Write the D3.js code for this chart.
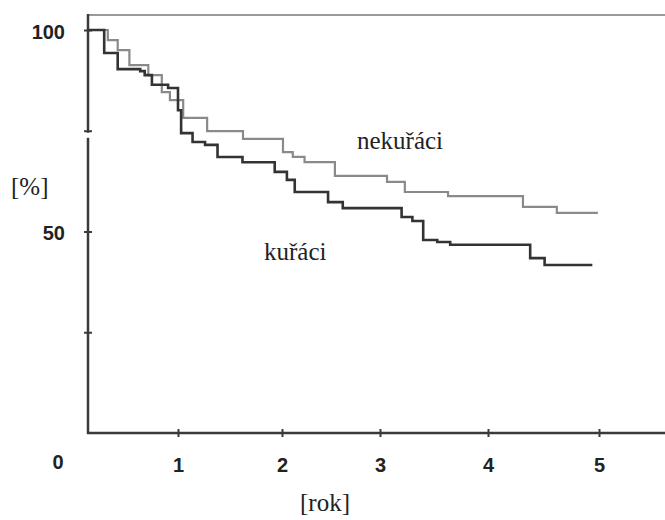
<!DOCTYPE html>
<html>
<head>
<meta charset="utf-8">
<script src="https://cdn.jsdelivr.net/npm/d3@7"></script>
<style>
  html, body { margin: 0; padding: 0; background: #fff; }
  svg { display: block; }
</style>
</head>
<body>
<div id="chart"></div>
<script>
// roky (osa x) a procenta (osa y)
const xTicks = [1, 2, 3, 4, 5];
const yTicks = [100, 75, 50, 25];
const yLabels = { 100: "100", 50: "50" };

// nekuřáci: [rok, %] - body změny křivky
const nekuraciT = [0, 0.22, 0.33, 0.46, 0.67, 0.82, 0.91, 1.05, 1.28, 1.625, 2.01, 2.11, 2.23, 2.54, 3.065, 3.23, 3.63, 4.315, 4.62, 4.99];
const nekuraciP = [100, 97.5, 95.0, 91.3, 88.8, 84.6, 82.6, 78.2, 74.9, 73.0, 69.7, 68.5, 67.2, 63.8, 62.3, 59.8, 58.8, 56.1, 54.6, 54.6];

// kuřáci
const kuraciT = [0, 0.18, 0.33, 0.58, 0.63, 0.71, 0.89, 1.0, 1.03, 1.14, 1.26, 1.38, 1.62, 1.93, 2.05, 2.13, 2.47, 2.62, 3.2, 3.3, 3.4, 3.53, 3.65, 4.38, 4.51, 4.94];
const kuraciP = [100, 94.3, 90.3, 89.8, 88.8, 86.4, 85.6, 80.1, 74.4, 72.2, 71.5, 68.5, 67.2, 64.8, 62.8, 59.8, 57.3, 55.8, 53.6, 52.6, 47.9, 47.4, 46.7, 43.4, 41.7, 41.7];

const W = 665, H = 520;
const svg = d3.select("#chart").append("svg")
  .attr("width", W).attr("height", H);

// osa x v originálu není rovnoměrná, proto polylineární škála
const x = d3.scaleLinear()
  .domain([0, 1, 2, 3, 4, 5, 5.6])
  .range([88, 178, 282, 380, 488, 599, 665]);
const y = d3.scaleLinear().domain([0, 100]).range([433, 30]);

const boldFont = "'Liberation Sans Narrow', 'Liberation Sans', Arial, sans-serif";
const serifFont = "'Liberation Serif', 'Times New Roman', serif";
const axisColor = "#3a3a3a";

// horní rámeček
svg.append("line")
  .attr("x1", x(0)).attr("x2", W)
  .attr("y1", 15).attr("y2", 15)
  .attr("stroke", "#9a9a9a").attr("stroke-width", 2);

// osa y s přerušením
const gapTop = y(75) + 2, gapBot = y(75) + 7;
svg.append("line")
  .attr("x1", x(0)).attr("x2", x(0))
  .attr("y1", 14).attr("y2", gapTop)
  .attr("stroke", axisColor).attr("stroke-width", 2.5);
svg.append("line")
  .attr("x1", x(0)).attr("x2", x(0))
  .attr("y1", gapBot).attr("y2", y(0) + 1)
  .attr("stroke", axisColor).attr("stroke-width", 2.5);

const yAxisG = svg.append("g")
  .attr("transform", `translate(${x(0)},0)`)
  .call(d3.axisLeft(y).tickValues(yTicks).tickSize(0).tickPadding(23)
    .tickFormat((d) => yLabels[d] || ""));
yAxisG.select(".domain").remove();
yAxisG.selectAll(".tick line")
  .attr("x1", -4).attr("x2", 4)
  .attr("stroke", axisColor).attr("stroke-width", 2);
yAxisG.selectAll(".tick text")
  .attr("fill", "#222")
  .attr("dy", "0.4em")
  .style("font-family", boldFont)
  .style("font-weight", "bold")
  .style("font-size", "20px");

// osa x
svg.append("line")
  .attr("x1", x(0) - 1).attr("x2", W)
  .attr("y1", y(0)).attr("y2", y(0))
  .attr("stroke", axisColor).attr("stroke-width", 2.5);

const xAxisG = svg.append("g")
  .attr("transform", `translate(0,${y(0)})`)
  .call(d3.axisBottom(x).tickValues(xTicks).tickSize(0).tickPadding(25)
    .tickFormat(d3.format("d")));
xAxisG.select(".domain").remove();
xAxisG.selectAll(".tick line")
  .attr("y1", -4).attr("y2", 4)
  .attr("stroke", axisColor).attr("stroke-width", 2);
xAxisG.selectAll(".tick text")
  .attr("fill", "#222")
  .style("font-family", boldFont)
  .style("font-weight", "bold")
  .style("font-size", "20px");

// nula pod osou
svg.append("text")
  .attr("x", 58).attr("y", y(0) + 36)
  .attr("text-anchor", "middle")
  .attr("fill", "#222")
  .style("font-family", boldFont)
  .style("font-weight", "bold")
  .style("font-size", "20px")
  .text("0");

// křivky
const stepLine = d3.line()
  .x((d) => x(d[0]))
  .y((d) => y(d[1]))
  .curve(d3.curveStepAfter);

const nekuraci = nekuraciT.map((t, i) => [t, nekuraciP[i]]);
const kuraci = kuraciT.map((t, i) => [t, kuraciP[i]]);

svg.append("path")
  .datum(nekuraci)
  .attr("fill", "none")
  .attr("stroke", "#8a8a8a")
  .attr("stroke-width", 2.2)
  .attr("d", stepLine);

svg.append("path")
  .datum(kuraci)
  .attr("fill", "none")
  .attr("stroke", "#333")
  .attr("stroke-width", 2.6)
  .attr("d", stepLine);

// popisky
const labels = [
  { text: "nekuřáci", x: 357, y: 149 },
  { text: "kuřáci", x: 264, y: 260 },
  { text: "[%]", x: 11, y: 195 },
  { text: "[rok]", x: 300, y: 511 },
];
svg.selectAll(".lbl")
  .data(labels)
  .enter()
  .append("text")
  .attr("class", "lbl")
  .attr("x", (d) => d.x)
  .attr("y", (d) => d.y)
  .attr("fill", "#222")
  .style("font-family", serifFont)
  .style("font-size", "25px")
  .text((d) => d.text);
</script>
</body>
</html>
